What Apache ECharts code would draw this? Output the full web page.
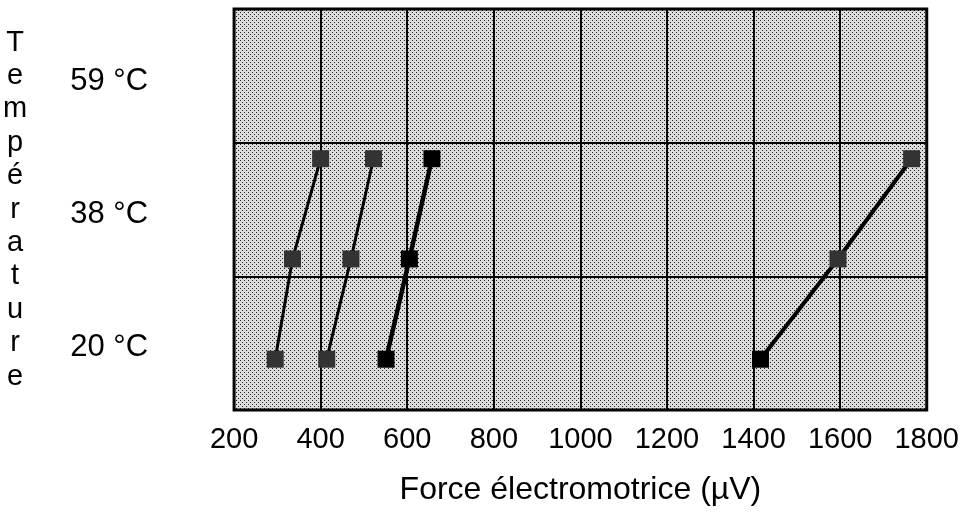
<!DOCTYPE html>
<html>
<head>
<meta charset="utf-8">
<script src="https://cdn.jsdelivr.net/npm/echarts@6/dist/echarts.min.js"></script>
<style>
html,body{margin:0;padding:0;background:#fff;}
#chart{width:962px;height:514px;}
</style>
</head>
<body>
<div id="chart"></div>
<script>
// Temperature levels (row positions on the y band axis) and their labels
const tempLevels = [0.38, 1.13, 1.88];
const tempLabelPositions = [0.465, 1.465, 2.46];
const tempLabels = ['20 °C', '38 °C', '59 °C'];
const xTicks = [200, 400, 600, 800, 1000, 1200, 1400, 1600, 1800];
// Force électromotrice (µV) per series at each temperature level
const series1 = [295, 335, 400];
const series2 = [414, 470, 522];
const series3 = [551, 605, 657];
const series4 = [1416, 1595, 1765];

const yTitle = 'Température';
const xTitle = 'Force électromotrice (µV)';
const FONT = 'Liberation Sans, Arial, sans-serif';

function pairs(vals) { return vals.map((v, i) => [v, tempLevels[i]]); }

// halftone-like dotted fill for the plot area
function dotPattern(bg, dot) {
  const c = document.createElement('canvas');
  c.width = 4; c.height = 4;
  const g = c.getContext('2d');
  g.fillStyle = bg; g.fillRect(0, 0, 4, 4);
  g.fillStyle = dot;
  g.fillRect(0, 0, 1, 1); g.fillRect(2, 2, 1, 1);
  return {image: c, repeat: 'repeat'};
}
const markerGray = '#333333';

const chart = echarts.init(document.getElementById('chart'), null, {renderer: 'canvas'});
const option = {
  animation: false,
  backgroundColor: '#ffffff',
  grid: {
    left: 234, right: 34, top: 9, bottom: 104,
    show: true, backgroundColor: dotPattern('#dcdcdc', '#222222'), borderColor: '#000', borderWidth: 3
  },
  xAxis: {
    type: 'value', min: xTicks[0], max: xTicks[xTicks.length - 1], interval: 200,
    axisLine: {show: false}, axisTick: {show: false},
    splitLine: {show: true, lineStyle: {color: '#000', width: 2}},
    axisLabel: {margin: 15, fontSize: 29, color: '#000', fontFamily: FONT,
      formatter: v => xTicks.includes(v) ? String(v) : ''},
    name: xTitle, nameLocation: 'middle', nameGap: 64,
    nameTextStyle: {fontSize: 32, color: '#000', fontFamily: FONT}
  },
  yAxis: {
    type: 'value', min: 0, max: 3, interval: 1,
    axisLine: {show: false}, axisTick: {show: false},
    splitLine: {show: true, lineStyle: {color: '#000', width: 2}},
    axisLabel: {
      customValues: tempLabelPositions,
      margin: 86, fontSize: 31, color: '#000', fontFamily: FONT,
      formatter: v => {
        const i = tempLabelPositions.findIndex(p => Math.abs(p - v) < 1e-6);
        return i >= 0 ? tempLabels[i] : '';
      }
    },
    name: yTitle.split('').join('\n'), nameLocation: 'middle', nameRotate: 0, nameGap: 219,
    nameTextStyle: {fontSize: 29, color: '#000', fontFamily: FONT, lineHeight: 33.4,
      align: 'center', verticalAlign: 'middle', padding: [8, 0, 0, 0]}
  },
  series: [
    {type: 'line', data: pairs(series1), symbol: 'rect', symbolSize: 17,
      lineStyle: {color: '#000', width: 3}, itemStyle: {color: markerGray}},
    {type: 'line', data: pairs(series2), symbol: 'rect', symbolSize: 17,
      lineStyle: {color: '#000', width: 3}, itemStyle: {color: markerGray}},
    {type: 'line', data: pairs(series3), symbol: 'rect', symbolSize: 17,
      lineStyle: {color: '#000', width: 4.5}, itemStyle: {color: '#000'}},
    {type: 'line', data: pairs(series4).map((p, i) => ({value: p, itemStyle: {color: i === 0 ? '#000' : markerGray}})),
      symbol: 'rect', symbolSize: 17,
      lineStyle: {color: '#000', width: 4}, itemStyle: {color: markerGray}}
  ]
};
chart.setOption(option);
</script>
</body>
</html>
